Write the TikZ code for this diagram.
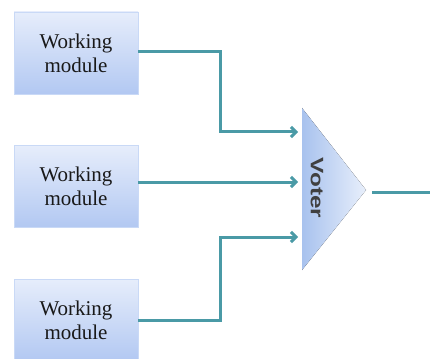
\documentclass[tikz,border=0pt]{standalone}
\usepackage{fontspec}
\setmainfont{Liberation Serif}
\newfontfamily\votfont{Liberation Sans}
\usetikzlibrary{arrows.meta,positioning}
\definecolor{wireteal}{HTML}{4A9AA6}
\definecolor{boxtop}{HTML}{E6EDFB}
\definecolor{boxbot}{HTML}{B2C8F2}
\definecolor{votbase}{HTML}{A8C2EE}
\definecolor{votapex}{HTML}{E8EFFB}
\tikzset{module/.style={rectangle,top color=boxtop,bottom color=boxbot,draw=boxbot!70!white,
  minimum width=124pt,minimum height=82pt,align=center,text=black!90,
  font=\fontsize{21}{24}\selectfont}}
\tikzset{wire/.style={draw=wireteal,line width=3pt}}
\tikzset{wirearrow/.style={wire,-{Straight Barb[length=5pt,width=10pt]}}}

\begin{document}
\begin{tikzpicture}[x=1pt,y=-1pt]
\useasboundingbox (0,0) rectangle (430,358);
% \draw[help lines] (0,0) grid[step=20] (430,358);
\node (w1) [module] at (76,53) {Working\\module};
\node (w2) [module] at (76,186.5) {Working\\module};
\node (w3) [module] at (76,320) {Working\\module};
%
\coordinate (vt) at (302,108);
\coordinate (vb) at (302,270);
\coordinate (va) at (366,190);
\fill[left color=votbase,right color=votapex] (vt) -- (va) -- (vb) -- cycle;
\node (voter) [rotate=-90,xscale=1.35,font=\fontsize{18}{22}\votfont\bfseries,text=black!75] at (317,188) {Voter};
%
\coordinate (in1) at (298,132);
\coordinate (in2) at (298,182);
\coordinate (in3) at (298,237);
\coordinate (b1) at (220,132);
\coordinate (b3) at (220,237);
\coordinate (out) at (430,192);
%
\draw[wirearrow] (w1.east |- 0,52) -| (b1) -- (in1);
\draw[wirearrow] (w2.east |- in2) -- (in2);
\draw[wirearrow] (w3.east) -| (b3) -- (in3);
%
\draw[wire] (372,192) coordinate (vout) -- (out);
\end{tikzpicture}
\end{document}
